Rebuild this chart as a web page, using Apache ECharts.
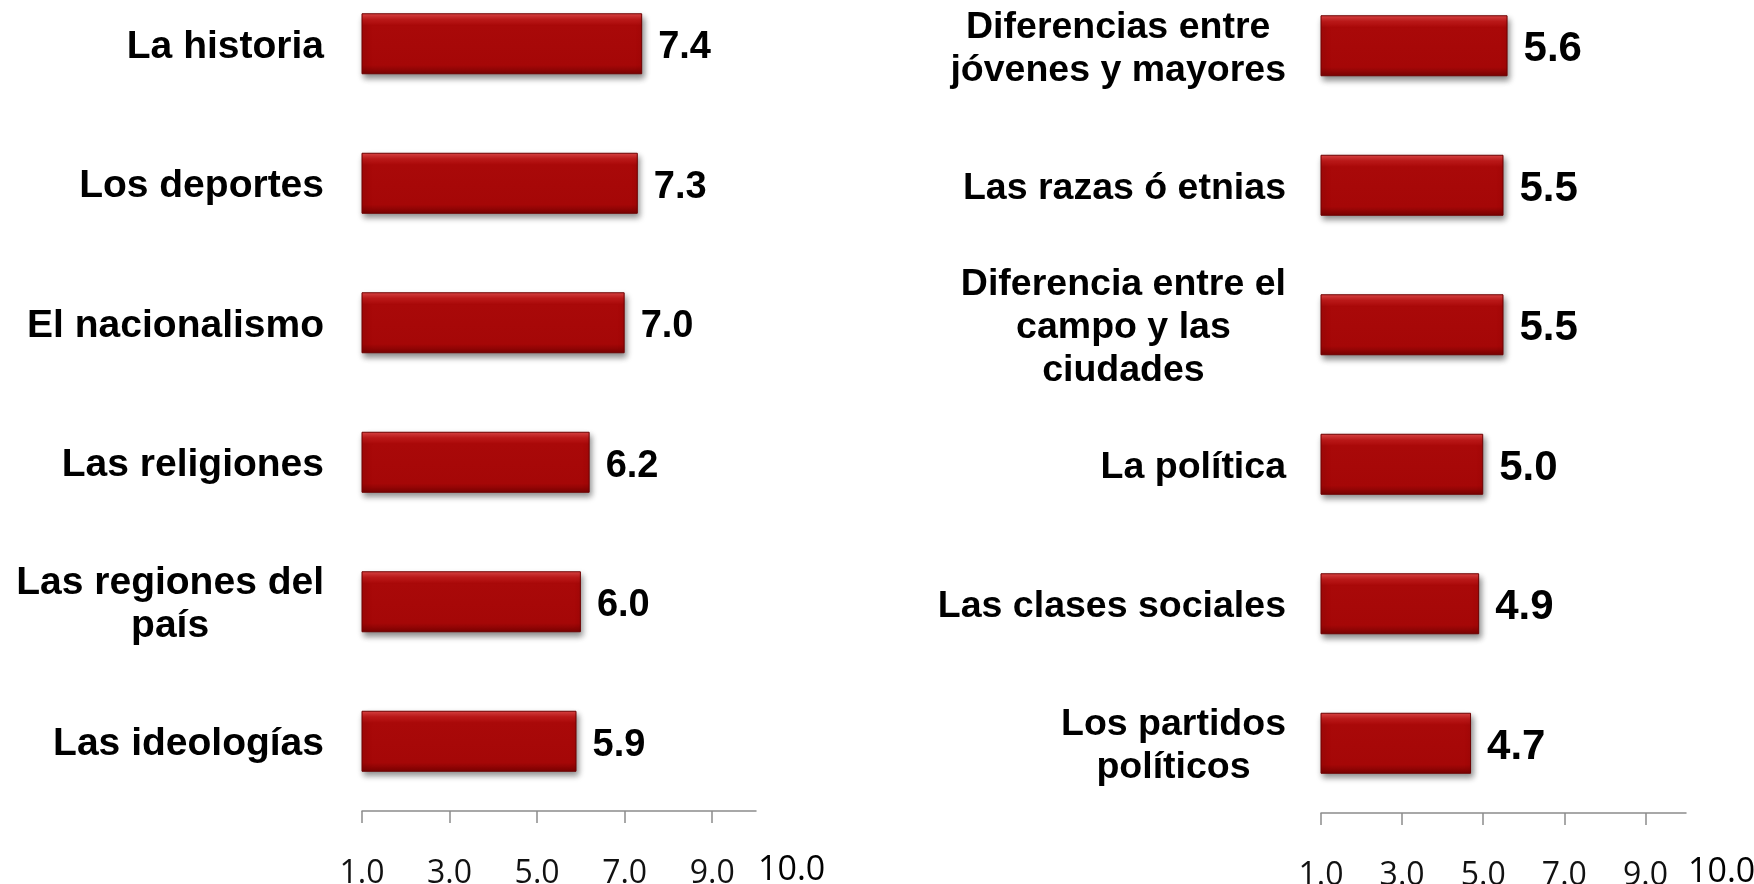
<!DOCTYPE html>
<html>
<head>
<meta charset="utf-8">
<script src="https://cdn.jsdelivr.net/npm/echarts@6/dist/echarts.min.js"></script>
<style>
  html, body { margin: 0; padding: 0; background: #fff; }
  #chart { width: 1754px; height: 884px; }
</style>
</head>
<body>
<div id="chart"></div>
<script>
// datos
const leftCats = ['La historia', 'Los deportes', 'El nacionalismo', 'Las religiones', 'Las regiones del\npaís', 'Las ideologías'];
const leftVals = [7.4, 7.3, 7.0, 6.2, 6.0, 5.9];
const rightCats = ['Diferencias entre\njóvenes y mayores', 'Las razas ó etnias', 'Diferencia entre el\ncampo y las\nciudades', 'La política', 'Las clases sociales', 'Los partidos\npolíticos'];
const rightVals = [5.6, 5.5, 5.5, 5.0, 4.9, 4.7];
const xTicks = [1, 3, 5, 7, 9];
const xMin = 1;
const xMax = 10;

const chart = echarts.init(document.getElementById('chart'));

// barra roja con efecto biselado
const barColor = new echarts.graphic.LinearGradient(0, 0, 0, 1, [
  { offset: 0, color: '#e04848' },
  { offset: 0.1, color: '#c41a1a' },
  { offset: 0.2, color: '#a90909' },
  { offset: 0.85, color: '#a50707' },
  { offset: 1, color: '#7a0202' },
]);

function xAxisFor(gridIndex) {
  return {
    type: 'value',
    gridIndex,
    position: 'bottom',
    min: xMin,
    max: xMax,
    splitLine: { show: false },
    axisLine: { show: true, lineStyle: { color: '#8c8c8c', width: 1.5 } },
    axisTick: { show: true, length: 12, customValues: xTicks, lineStyle: { color: '#8c8c8c', width: 1.5 } },
    axisLabel: {
      customValues: xTicks,
      margin: 47,
      fontFamily: 'Open Sans',
      fontSize: 32,
      color: '#111',
      formatter: (v) => v.toFixed(1),
    },
  };
}

// el "10.0" del extremo va aparte, más grande y pegado al final del eje
function maxLabelAxis(gridIndex) {
  return {
    type: 'value',
    gridIndex,
    position: 'bottom',
    offset: 0,
    min: xMin,
    max: xMax,
    splitLine: { show: false },
    axisLine: { show: false },
    axisTick: { show: false },
    axisLabel: {
      customValues: [xMax],
      showMaxLabel: true,
      margin: 42,
      align: 'left',
      padding: [0, 0, 0, 2],
      fontFamily: 'Open Sans',
      fontSize: 34,
      color: '#000',
      formatter: (v) => v.toFixed(1),
    },
  };
}

function yAxisFor(gridIndex, cats, margin, fontSize) {
  return {
    type: 'category',
    gridIndex,
    inverse: true,
    data: cats,
    axisLine: { show: false },
    axisTick: { show: false },
    axisLabel: {
      margin,
      align: 'right',
      formatter: (v) => '{c|' + v + '}',
      rich: {
        c: {
          align: 'center',
          fontFamily: 'Liberation Sans, Arial',
          fontWeight: 'bold',
          fontSize,
          lineHeight: 43,
          color: '#000',
          padding: [6, 0, 0, 0],
        },
      },
    },
  };
}

function barSeries(idx, vals, fontSize) {
  return {
    type: 'bar',
    xAxisIndex: idx,
    yAxisIndex: idx,
    data: vals,
    barWidth: 61,
    itemStyle: {
      color: barColor,
      borderColor: '#6e0000',
      borderWidth: 1,
      shadowColor: 'rgba(0,0,0,0.45)',
      shadowBlur: 6,
      shadowOffsetX: 2,
      shadowOffsetY: 4,
    },
    label: {
      show: true,
      position: 'right',
      distance: 16,
      offset: [0, 4],
      fontFamily: 'Liberation Sans, Arial',
      fontWeight: 'bold',
      fontSize,
      color: '#000',
      formatter: (p) => p.value.toFixed(1),
    },
  };
}

const option = {
  animation: false,
  grid: [
    { left: 362, width: 394, top: -26, height: 837, outerBoundsMode: 'none' },
    { left: 1321, width: 365, top: -24, height: 837, outerBoundsMode: 'none' },
  ],
  xAxis: [xAxisFor(0), xAxisFor(1), maxLabelAxis(0), maxLabelAxis(1)],
  yAxis: [yAxisFor(0, leftCats, 38, 39), yAxisFor(1, rightCats, 35, 37.5)],
  series: [barSeries(0, leftVals, 38), barSeries(1, rightVals, 42)],
};

chart.setOption(option);
</script>
</body>
</html>
